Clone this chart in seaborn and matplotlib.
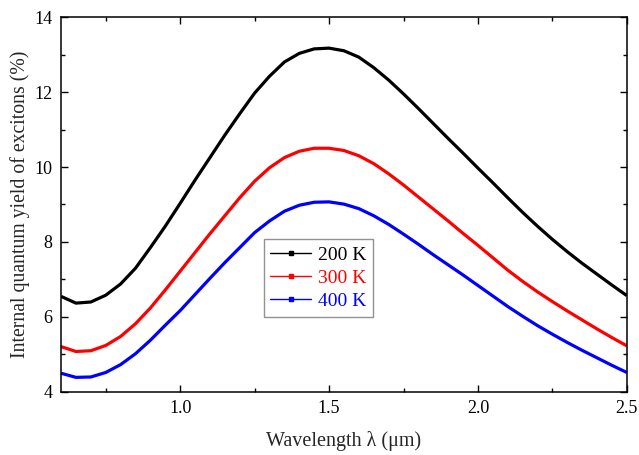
import numpy as np
import pandas as pd
import matplotlib
matplotlib.use("Agg")
import matplotlib.pyplot as plt
from matplotlib.lines import Line2D
from matplotlib.ticker import MultipleLocator, FormatStrFormatter
import seaborn as sns

wavelength = [0.60, 0.65, 0.70, 0.75, 0.80, 0.85, 0.90, 0.95, 1.00, 1.05, 1.10, 1.15,
              1.20, 1.25, 1.30, 1.35, 1.40, 1.45, 1.50, 1.55, 1.60, 1.65, 1.70, 1.75,
              1.80, 1.85, 1.90, 1.95, 2.00, 2.05, 2.10, 2.15, 2.20, 2.25, 2.30, 2.35,
              2.40, 2.45, 2.50]
yield_200K = [6.55, 6.37, 6.40, 6.58, 6.88, 7.30, 7.85, 8.42, 9.03, 9.65, 10.25, 10.85,
              11.42, 11.97, 12.42, 12.80, 13.03, 13.15, 13.17, 13.10, 12.93, 12.65, 12.32, 11.95,
              11.56, 11.16, 10.76, 10.37, 9.97, 9.58, 9.18, 8.79, 8.42, 8.07, 7.74, 7.43,
              7.14, 6.85, 6.57]
yield_300K = [5.21, 5.08, 5.10, 5.24, 5.48, 5.82, 6.24, 6.72, 7.22, 7.72, 8.22, 8.70,
              9.18, 9.62, 9.98, 10.25, 10.42, 10.50, 10.50, 10.44, 10.30, 10.09, 9.82, 9.52,
              9.20, 8.88, 8.56, 8.23, 7.91, 7.58, 7.25, 6.95, 6.67, 6.41, 6.16, 5.92,
              5.68, 5.45, 5.23]
yield_400K = [4.50, 4.39, 4.40, 4.52, 4.73, 5.02, 5.38, 5.78, 6.17, 6.60, 7.03, 7.45,
              7.85, 8.25, 8.56, 8.82, 8.98, 9.06, 9.07, 9.01, 8.89, 8.70, 8.47, 8.21,
              7.94, 7.66, 7.39, 7.12, 6.84, 6.56, 6.28, 6.02, 5.77, 5.54, 5.32, 5.11,
              4.91, 4.71, 4.52]
labels = ["200 K", "300 K", "400 K"]
colors = ["#000000", "#ff0000", "#0000ff"]

df = pd.concat([
    pd.DataFrame({"wl": wavelength, "y": vals, "T": lab})
    for vals, lab in zip([yield_200K, yield_300K, yield_400K], labels)
])

sns.set_theme(style="ticks")
plt.rcParams["font.family"] = ["Liberation Serif", "DejaVu Serif"]
plt.rcParams["mathtext.fontset"] = "stix"

fig = plt.figure(figsize=(6.39, 4.55), dpi=100)
ax = fig.add_axes([0.0955, 0.1385, 0.8855, 0.8241])

sns.lineplot(data=df, x="wl", y="y", hue="T", palette=dict(zip(labels, colors)),
             linewidth=2.3, ax=ax, legend=False, sort=False, estimator=None)
for ln in ax.get_lines():
    ln.set_solid_joinstyle("round")
    ln.set_solid_capstyle("butt")

ax.set_xlim(0.6, 2.5)
ax.set_ylim(4, 14)
ax.xaxis.set_major_locator(MultipleLocator(0.5))
ax.xaxis.set_minor_locator(MultipleLocator(0.25))
ax.xaxis.set_major_formatter(FormatStrFormatter("%.1f"))
ax.yaxis.set_major_locator(MultipleLocator(2))
ax.yaxis.set_minor_locator(MultipleLocator(1))
ax.tick_params(which="both", direction="in", top=True, right=True, labelsize=13,
               colors="black", width=1)
ax.tick_params(which="major", length=5, pad=6)
ax.tick_params(which="minor", length=3)
for s in ax.spines.values():
    s.set_linewidth(1.1)
    s.set_color("black")

ax.set_xlabel("Wavelength λ (μm)", fontsize=14.5, labelpad=10)
ax.set_ylabel("Internal quantum yield of excitons (%)", fontsize=14.2, labelpad=3)

handles = [Line2D([0], [0], color=c, lw=1, marker="s", markersize=2.5) for c in colors]
leg = ax.legend(handles, labels, loc="upper left", bbox_to_anchor=(0.358, 0.407),
                fontsize=14, frameon=True, fancybox=False, handlelength=2.1,
                handletextpad=0.35, borderpad=0.35, labelspacing=0.28, borderaxespad=0)
leg.get_frame().set_edgecolor("#777777")
leg.get_frame().set_linewidth(1.0)
for t, c in zip(leg.get_texts(), colors):
    t.set_color(c)

fig.savefig("out.png", dpi=100)
